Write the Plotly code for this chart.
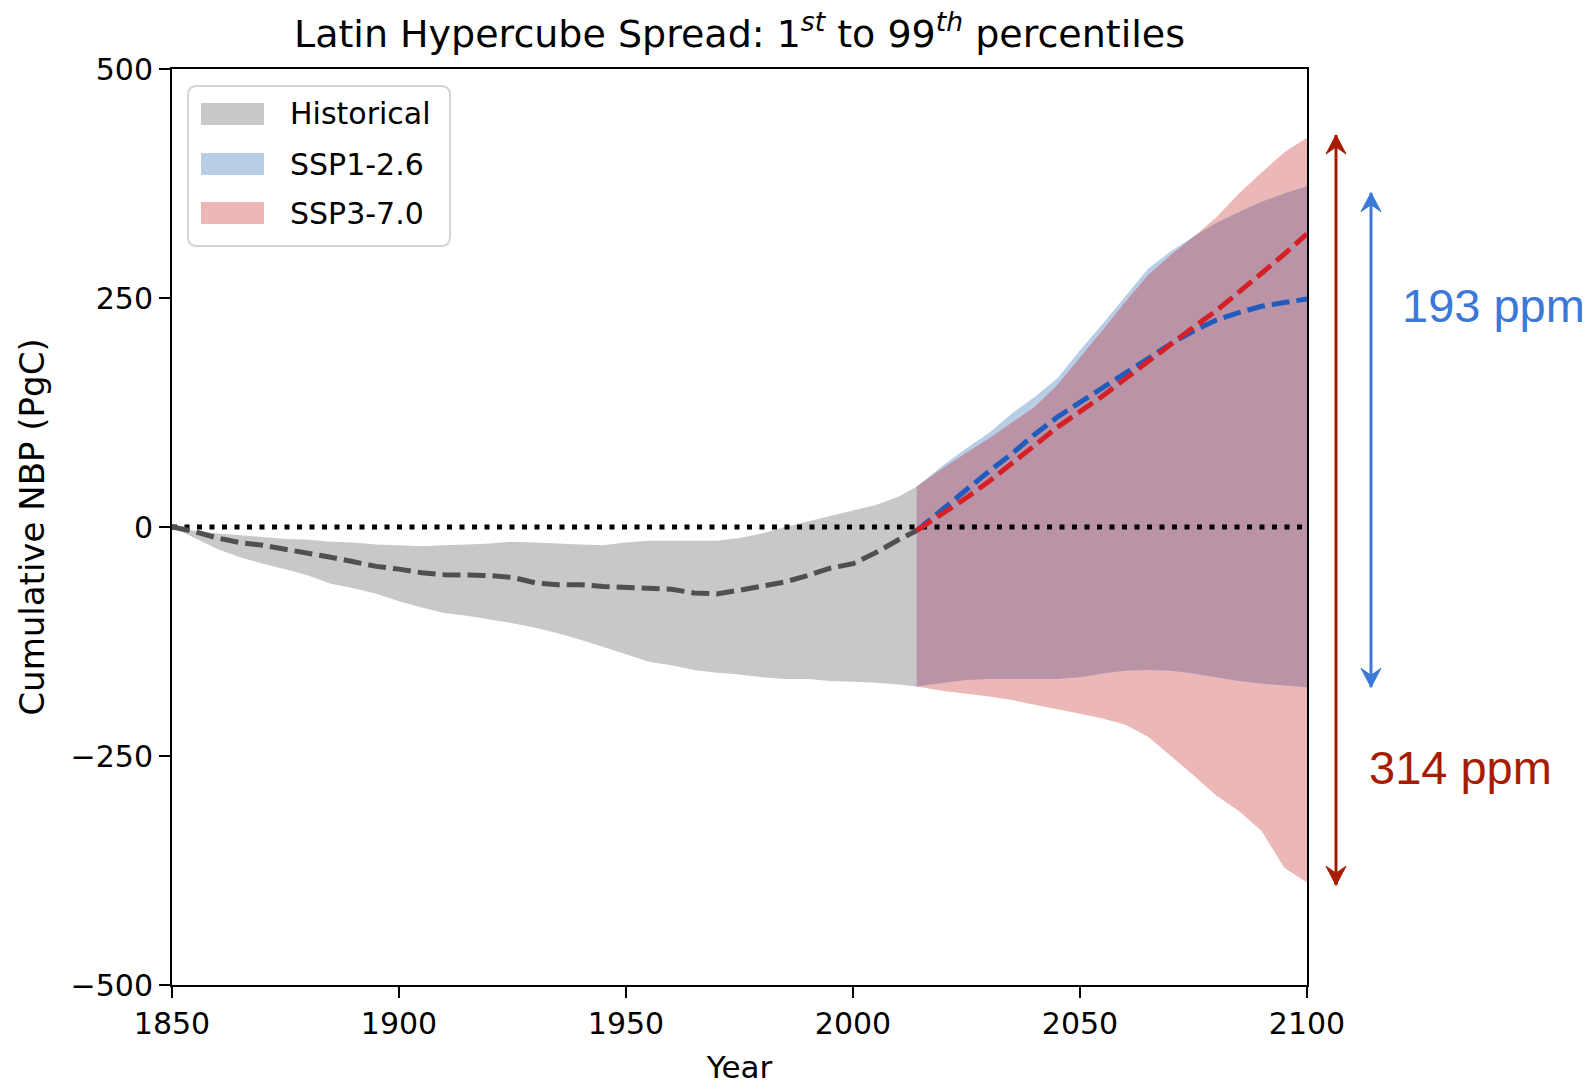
import numpy as np
import plotly.graph_objects as go

# ---------------- data ----------------
hist_years = [1850, 1855, 1860, 1865, 1870, 1875, 1880, 1885, 1890, 1895, 1900, 1905,
              1910, 1915, 1920, 1925, 1930, 1935, 1940, 1945, 1950, 1955, 1960, 1965,
              1970, 1975, 1980, 1985, 1990, 1995, 2000, 2005, 2010, 2014]
hist_upper = [0, -4, -7, -9, -11, -13, -14, -16, -17, -19, -20, -21,
              -20, -19, -18, -16, -17, -18, -19, -20, -17, -15, -15, -15,
              -15, -12, -7, 0, 6, 12, 18, 24, 33, 44]
hist_lower = [0, -12, -24, -33, -40, -46, -53, -62, -67, -73, -81, -88,
              -94, -97, -101, -105, -110, -116, -123, -131, -139, -147, -151, -156,
              -159, -161, -164, -166, -166, -168, -169, -170, -172, -174]
hist_median = [0, -5, -12, -17, -20, -24, -28, -33, -38, -43, -46, -50,
               -52, -52, -53, -55, -61, -63, -63, -65, -66, -67, -68, -72,
               -73, -69, -64, -60, -53, -45, -40, -28, -14, -4]

fut_years = [2014, 2020, 2025, 2030, 2035, 2040, 2045, 2050, 2055, 2060,
             2065, 2070, 2075, 2080, 2085, 2090, 2095, 2100]
ssp126_upper = [44, 68, 86, 103, 124, 142, 162, 193, 222, 252,
                282, 301, 317, 332, 344, 355, 364, 372]
ssp126_lower = [-174, -170, -167, -166, -166, -166, -166, -164, -160, -157,
                -156, -157, -160, -164, -168, -171, -173, -175]
ssp126_median = [-4, 21, 41, 61, 80, 101, 120, 136, 152, 168,
                 185, 200, 214, 226, 234, 241, 245, 249]
ssp370_upper = [44, 65, 81, 97, 114, 131, 155, 185, 215, 246,
                275, 297, 317, 338, 364, 387, 409, 425]
ssp370_lower = [-174, -179, -182, -185, -189, -194, -199, -204, -209, -216,
                -229, -250, -271, -293, -310, -332, -372, -388]
ssp370_median = [-4, 15, 32, 50, 69, 89, 109, 126, 143, 162,
                 181, 199, 218, 236, 256, 277, 298, 320]

legend_names = ["Historical", "SSP1-2.6", "SSP3-7.0"]

# spread annotations (ppm) and arrow extents (PgC)
spread_labels = ["193 ppm", "314 ppm"]
ssp126_arrow = [365, -175]
ssp370_arrow = [428, -391]

# ---------------- styles ----------------
C_HIST = "#c8c8c8"
C_BLUE_BAND = "#b8cde6"
C_RED_BAND = "#ecb7b7"
C_OVERLAP = "#bb93a6"
C_HIST_LINE = "#505050"
C_BLUE_LINE = "#1f5cbd"
C_RED_LINE = "#d42026"
C_BLUE_TXT = "#3c78d8"
C_RED_TXT = "#a61c00"

FONT = "DejaVu Sans"
W, H = 1593, 1090
PL, PR, PT, PB = 172, 1307, 69, 985          # plot area in pixels


def px2paper_x(px):
    return (px - PL) / (PR - PL)


def px2paper_y(py):
    return 1 - (py - PT) / (PB - PT)


def band(x, lo, hi):
    return list(x) + list(x)[::-1], list(hi) + list(lo)[::-1]


fig = go.Figure()

bx, by = band(hist_years, hist_lower, hist_upper)
fig.add_trace(go.Scatter(x=bx, y=by, fill="toself", fillcolor=C_HIST, mode="none",
                         name=legend_names[0], hoverinfo="skip"))

bx, by = band(fut_years, ssp370_lower, ssp370_upper)
fig.add_trace(go.Scatter(x=bx, y=by, fill="toself", fillcolor=C_RED_BAND, mode="none",
                         name=legend_names[2], hoverinfo="skip"))

bx, by = band(fut_years, ssp126_lower, ssp126_upper)
fig.add_trace(go.Scatter(x=bx, y=by, fill="toself", fillcolor=C_BLUE_BAND, mode="none",
                         name=legend_names[1], hoverinfo="skip"))

ov_hi = np.minimum(ssp126_upper, ssp370_upper)
ov_lo = np.maximum(ssp126_lower, ssp370_lower)
bx, by = band(fut_years, ov_lo, ov_hi)
fig.add_trace(go.Scatter(x=bx, y=by, fill="toself", fillcolor=C_OVERLAP, mode="none",
                         name="overlap", hoverinfo="skip"))

# zero reference line
fig.add_trace(go.Scatter(x=[hist_years[0], fut_years[-1]], y=[0, 0], mode="lines",
                         line=dict(color="black", width=5, dash="5px,7.5px"),
                         name="zero", hoverinfo="skip"))

# medians
DASH = "18px,7px"
LW = 5
fig.add_trace(go.Scatter(x=hist_years, y=hist_median, mode="lines", name="Historical median",
                         line=dict(color=C_HIST_LINE, width=LW, dash=DASH)))
fig.add_trace(go.Scatter(x=fut_years, y=ssp126_median, mode="lines", name="SSP1-2.6 median",
                         line=dict(color=C_BLUE_LINE, width=LW, dash=DASH)))
fig.add_trace(go.Scatter(x=fut_years, y=ssp370_median, mode="lines", name="SSP3-7.0 median",
                         line=dict(color=C_RED_LINE, width=LW, dash=DASH)))

shapes = []

# ---- double-headed arrows outside the plot (right side) ----
HEAD_UP = "M0,0 L-10,-19 L0,-12 L10,-19 Z"
HEAD_DOWN = "M0,0 L-10,19 L0,12 L10,19 Z"
for xpx, (ytop, ybot), col in [(1336, ssp370_arrow, C_RED_TXT),
                               (1371, ssp126_arrow, C_BLUE_TXT)]:
    xp = px2paper_x(xpx)
    shapes.append(dict(type="line", xref="paper", yref="y", x0=xp, x1=xp,
                       y0=ytop, y1=ybot, line=dict(color=col, width=3), layer="above"))
    shapes.append(dict(type="path", xref="paper", yref="y", xsizemode="pixel",
                       ysizemode="pixel", xanchor=xp, yanchor=ytop, path=HEAD_UP,
                       fillcolor=col, line=dict(color=col, width=1), layer="above"))
    shapes.append(dict(type="path", xref="paper", yref="y", xsizemode="pixel",
                       ysizemode="pixel", xanchor=xp, yanchor=ybot, path=HEAD_DOWN,
                       fillcolor=col, line=dict(color=col, width=1), layer="above"))

fig.add_annotation(xref="paper", yref="paper", x=px2paper_x(1493), y=px2paper_y(305),
                   text=spread_labels[0], showarrow=False, xanchor="center", yanchor="middle",
                   font=dict(family="Liberation Sans", size=47, color=C_BLUE_TXT))
fig.add_annotation(xref="paper", yref="paper", x=px2paper_x(1460), y=px2paper_y(767),
                   text=spread_labels[1], showarrow=False, xanchor="center", yanchor="middle",
                   font=dict(family="Liberation Sans", size=47, color=C_RED_TXT))

# ---- legend (drawn as a box with filled swatches) ----
bx0, bx1, by0, by1, r = 188, 450, 86, 246, 9
X = px2paper_x
Y = px2paper_y
box_path = (f"M{X(bx0 + r)},{Y(by0)} L{X(bx1 - r)},{Y(by0)} Q{X(bx1)},{Y(by0)} {X(bx1)},{Y(by0 + r)} "
            f"L{X(bx1)},{Y(by1 - r)} Q{X(bx1)},{Y(by1)} {X(bx1 - r)},{Y(by1)} "
            f"L{X(bx0 + r)},{Y(by1)} Q{X(bx0)},{Y(by1)} {X(bx0)},{Y(by1 - r)} "
            f"L{X(bx0)},{Y(by0 + r)} Q{X(bx0)},{Y(by0)} {X(bx0 + r)},{Y(by0)} Z")
shapes.append(dict(type="path", xref="paper", yref="paper", path=box_path,
                   fillcolor="rgba(255,255,255,0.85)", line=dict(color="#d4d4d4", width=2),
                   layer="above"))
row_centers = [114, 164, 213]
swatch_cols = [C_HIST, C_BLUE_BAND, C_RED_BAND]
for name, yc, col in zip(legend_names, row_centers, swatch_cols):
    shapes.append(dict(type="rect", xref="paper", yref="paper",
                       x0=X(201), x1=X(264), y0=Y(yc - 11), y1=Y(yc + 11),
                       fillcolor=col, line=dict(width=0), layer="above"))
    fig.add_annotation(xref="paper", yref="paper", x=X(288), y=Y(yc), text=name,
                       showarrow=False, xanchor="left", yanchor="middle",
                       font=dict(family=FONT, size=30, color="black"))

axis_common = dict(showline=True, mirror=True, linecolor="black", linewidth=2,
                   ticks="outside", ticklen=11, tickwidth=2, tickcolor="black",
                   showgrid=False, zeroline=False,
                   tickfont=dict(family=FONT, size=30, color="black"))

fig.update_layout(
    width=W, height=H,
    paper_bgcolor="white", plot_bgcolor="white",
    margin=dict(l=PL, r=W - PR, t=PT, b=H - PB, autoexpand=False),
    shapes=shapes,
    showlegend=False,
    title=dict(text="Latin Hypercube Spread: 1<sup><i>st</i></sup> to 99<sup><i>th</i></sup> percentiles",
               x=(PL + PR) / 2 / W, xanchor="center", y=1 - 34 / H, yanchor="middle",
               font=dict(family=FONT, size=38, color="black")),
    xaxis=dict(range=[1850, 2100], tickvals=[1850, 1900, 1950, 2000, 2050, 2100],
               title=dict(text="Year", standoff=16,
                          font=dict(family=FONT, size=31, color="black")),
               **axis_common),
    yaxis=dict(range=[-500, 500], tickvals=[-500, -250, 0, 250, 500],
               title=dict(text="Cumulative NBP (PgC)", standoff=16,
                          font=dict(family=FONT, size=34, color="black")),
               **axis_common),
)

fig.write_html("out.html")
